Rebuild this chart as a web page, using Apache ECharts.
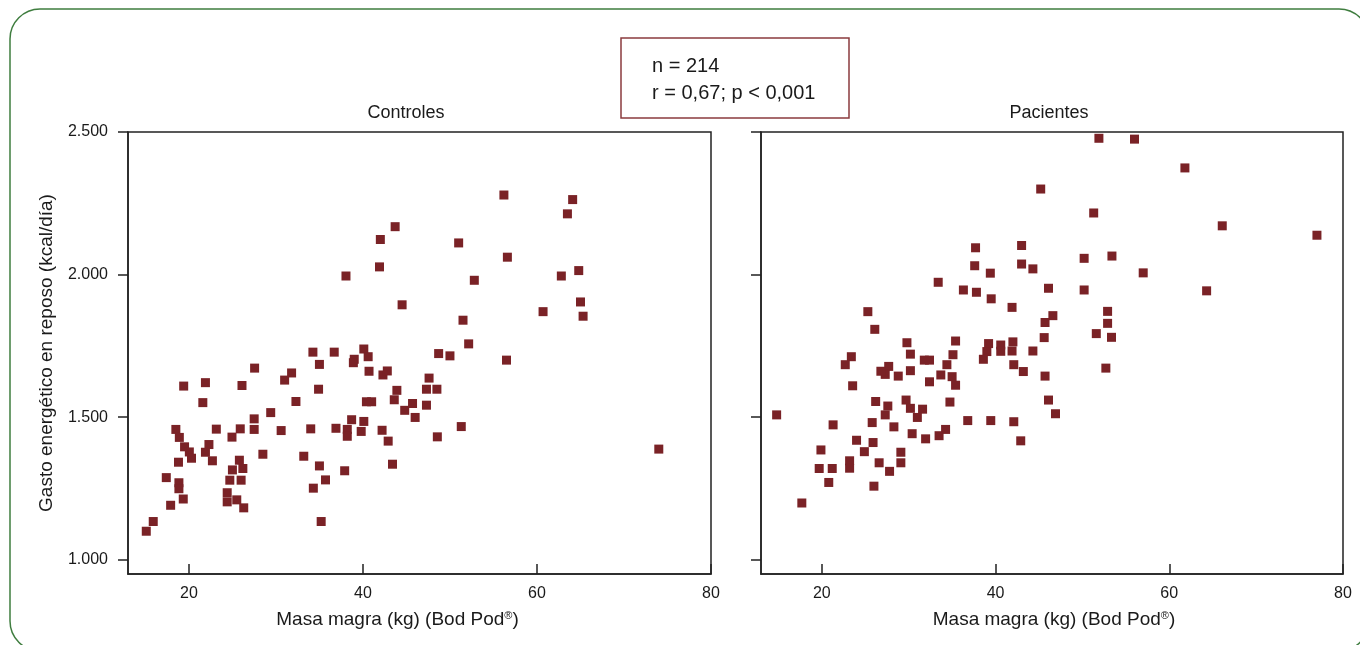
<!DOCTYPE html>
<html>
<head>
<meta charset="utf-8">
<script src="https://cdn.jsdelivr.net/npm/echarts@6/dist/echarts.min.js"></script>
<style>
html,body{margin:0;padding:0;background:#fff}
#chart{width:1360px;height:645px}
</style>
</head>
<body>
<div id="chart"></div>
<script>
// Controles: masa magra (kg) y gasto energetico (kcal/dia)
var ctrlMasa = [43.7,42.0,41.9,38.05,44.5,34.25,36.7,40.1,40.6,39.0,56.2,64.1,63.5,51.0,56.6,52.8,62.8,64.8,65.0,60.7,
    65.3,51.5,52.15,48.7,50.0,56.5,47.6,47.3,48.5,47.3,51.3,48.55,74.0,27.55,35.0,38.9,40.7,31.8,31.0,42.3,
    42.8,19.4,21.9,26.1,34.9,21.6,32.3,40.4,41.0,43.6,43.9,45.7,44.8,46.0,29.4,27.5,38.7,40.1,18.5,23.15,
    25.9,27.5,30.6,34.0,36.9,38.2,38.2,39.8,42.2,42.9,43.4,18.9,24.95,19.5,22.3,20.05,21.9,20.3,22.7,18.8,
    28.5,25.8,26.2,25.0,33.2,35.0,37.9,17.4,18.85,18.85,24.7,26.0,35.7,34.3,19.35,17.9,24.4,24.4,25.5,26.3,
    15.9,15.1,35.2]
var ctrlGasto = [2168,2123,2027,1995,1894,1728,1728,1739,1712,1703,2279,2263,2213,2111,2061,1980,1995,2014,1904,1870,
    1854,1840,1757,1723,1715,1700,1637,1598,1598,1542,1467,1431,1388,1672,1685,1691,1661,1655,1630,1648,
    1662,1609,1621,1611,1598,1551,1555,1554,1554,1561,1594,1548,1524,1499,1516,1494,1491,1485,1457,1458,
    1459,1457,1453,1459,1461,1457,1433,1450,1454,1416,1335,1429,1430,1396,1404,1378,1377,1356,1347,1342,
    1370,1349,1320,1315,1363,1329,1312,1288,1270,1249,1279,1279,1280,1251,1213,1191,1235,1203,1210,1182,
    1134,1100,1134]

// Pacientes
var pacMasa = [45.2,37.7,43.0,37.6,43.0,44.3,39.4,33.4,36.3,37.8,39.5,46.1,41.9,25.3,26.1,45.7,46.6,45.6,29.8,35.4,
    39.2,40.6,42.0,39.0,40.6,41.9,44.3,30.2,35.1,23.4,31.8,32.4,38.6,22.7,34.4,27.7,27.3,26.8,28.8,30.2,
    33.7,35.0,35.4,32.4,23.55,42.1,43.2,45.7,46.1,26.2,27.6,27.3,29.7,30.2,31.6,31.0,34.75,14.8,21.3,25.8,
    28.3,30.4,31.95,33.5,34.25,36.8,39.45,42.1,42.9,19.9,24.0,25.9,24.9,29.1,23.2,23.2,19.7,21.2,26.6,29.1,
    27.8,20.8,26.0,17.7,51.9,56.0,61.8,51.3,66.1,77.0,50.2,53.4,57.0,50.2,64.3,52.9,52.9,51.6,53.35,52.7,
    46.9]
var pacGasto = [2300,2094,2102,2031,2037,2020,2005,1973,1946,1938,1915,1952,1885,1870,1808,1832,1856,1779,1761,1767,
    1758,1753,1764,1730,1731,1732,1732,1721,1719,1712,1700,1700,1703,1684,1684,1678,1650,1661,1644,1663,
    1648,1642,1612,1624,1610,1684,1660,1644,1560,1555,1539,1508,1560,1531,1528,1499,1553,1508,1473,1481,
    1466,1442,1424,1435,1457,1488,1488,1484,1417,1385,1419,1411,1379,1377,1347,1321,1320,1320,1340,1340,
    1310,1271,1258,1199,2478,2475,2374,2216,2171,2138,2057,2065,2006,1946,1943,1871,1829,1793,1780,1672,
    1512]

var xTicks = [20,40,60,80]
var yTicks = [1000,1500,2000,2500]
var panelTitles = ['Controles','Pacientes']
var xName = 'Masa magra (kg) (Bod Pod{sup|®})'
var yName = 'Gasto energético en reposo (kcal/día)'
var statLines = ['n = 214','r = 0,67; p < 0,001']

var font = '"Liberation Sans", Arial, sans-serif'
var ink = '#1a1a1a'
var markColor = '#7a2226'

function zip(a,b){
    var out = []
    for(var i=0;i<a.length;i++) out.push([a[i],b[i]])
    return out
}
function miles(v){
    return String(v).replace(/\B(?=(\d{3})+(?!\d))/g,'.')
}

var chart = echarts.init(document.getElementById('chart'))

var xAxisBase = function(idx, pad){
    return {
        type:'value', gridIndex:idx, min:13, max:80,
        name:xName, nameLocation:'middle', nameGap:36,
        nameTextStyle:{fontFamily:font, fontSize:19, color:ink, padding:pad,
            rich:{sup:{fontSize:11, verticalAlign:'top', padding:[0,0,8,0], color:ink, fontFamily:font}}},
        axisLine:{show:true, onZero:false, lineStyle:{color:'#222', width:1.5}},
        axisTick:{show:true, inside:true, length:10, customValues:xTicks, lineStyle:{color:'#222', width:1.5}},
        axisLabel:{customValues:xTicks, fontFamily:font, fontSize:16, color:ink, margin:12},
        splitLine:{show:false}
    }
}
var yAxisBase = function(idx, showLabels){
    return {
        type:'value', gridIndex:idx, min:950, max:2500,
        name: showLabels ? yName : '', nameLocation:'middle', nameGap:72,
        nameTextStyle:{fontFamily:font, fontSize:19, color:ink},
        axisLine:{show:true, onZero:false, lineStyle:{color:'#222', width:1.5}},
        axisTick:{show:true, inside:false, length:10, customValues:yTicks, lineStyle:{color:'#222', width:1.5}},
        axisLabel:{show:showLabels, customValues:yTicks, formatter:miles, fontFamily:font, fontSize:16, color:ink, margin:20},
        splitLine:{show:false}
    }
}

var option = {
    animation:false,
    backgroundColor:'#fff',
    grid:[
        {left:128, top:132, width:583, height:442, show:true, borderColor:'#222', borderWidth:1.5, backgroundColor:'transparent'},
        {left:761, top:132, width:582, height:442, show:true, borderColor:'#222', borderWidth:1.5, backgroundColor:'transparent'}
    ],
    xAxis:[xAxisBase(0,[0,44,0,0]), xAxisBase(1,[0,0,0,4])],
    yAxis:[yAxisBase(0,true), yAxisBase(1,false)],
    series:[
        {type:'scatter', xAxisIndex:0, yAxisIndex:0, data:zip(ctrlMasa,ctrlGasto),
            symbol:'rect', symbolSize:9, itemStyle:{color:markColor, opacity:1}},
        {type:'scatter', xAxisIndex:1, yAxisIndex:1, data:zip(pacMasa,pacGasto),
            symbol:'rect', symbolSize:9, itemStyle:{color:markColor, opacity:1}}
    ],
    graphic:[
        {type:'rect', shape:{x:10, y:9, width:1359, height:642, r:30},
            style:{fill:null, stroke:'#3f7d3f', lineWidth:1.5}, silent:true},
        {type:'rect', shape:{x:621, y:38, width:228, height:80},
            style:{fill:'#fff', stroke:'#8b3b3e', lineWidth:1.5}, silent:true},
        {type:'text', x:652, y:66, style:{text:statLines[0], font:'20px ' + font, fill:ink, verticalAlign:'middle'}},
        {type:'text', x:652, y:93, style:{text:statLines[1], font:'20px ' + font, fill:ink, verticalAlign:'middle'}},
        {type:'text', x:406, y:113, style:{text:panelTitles[0], font:'18px ' + font, fill:ink, align:'center', verticalAlign:'middle'}},
        {type:'text', x:1049, y:113, style:{text:panelTitles[1], font:'18px ' + font, fill:ink, align:'center', verticalAlign:'middle'}}
    ]
}

chart.setOption(option)
</script>
</body>
</html>
